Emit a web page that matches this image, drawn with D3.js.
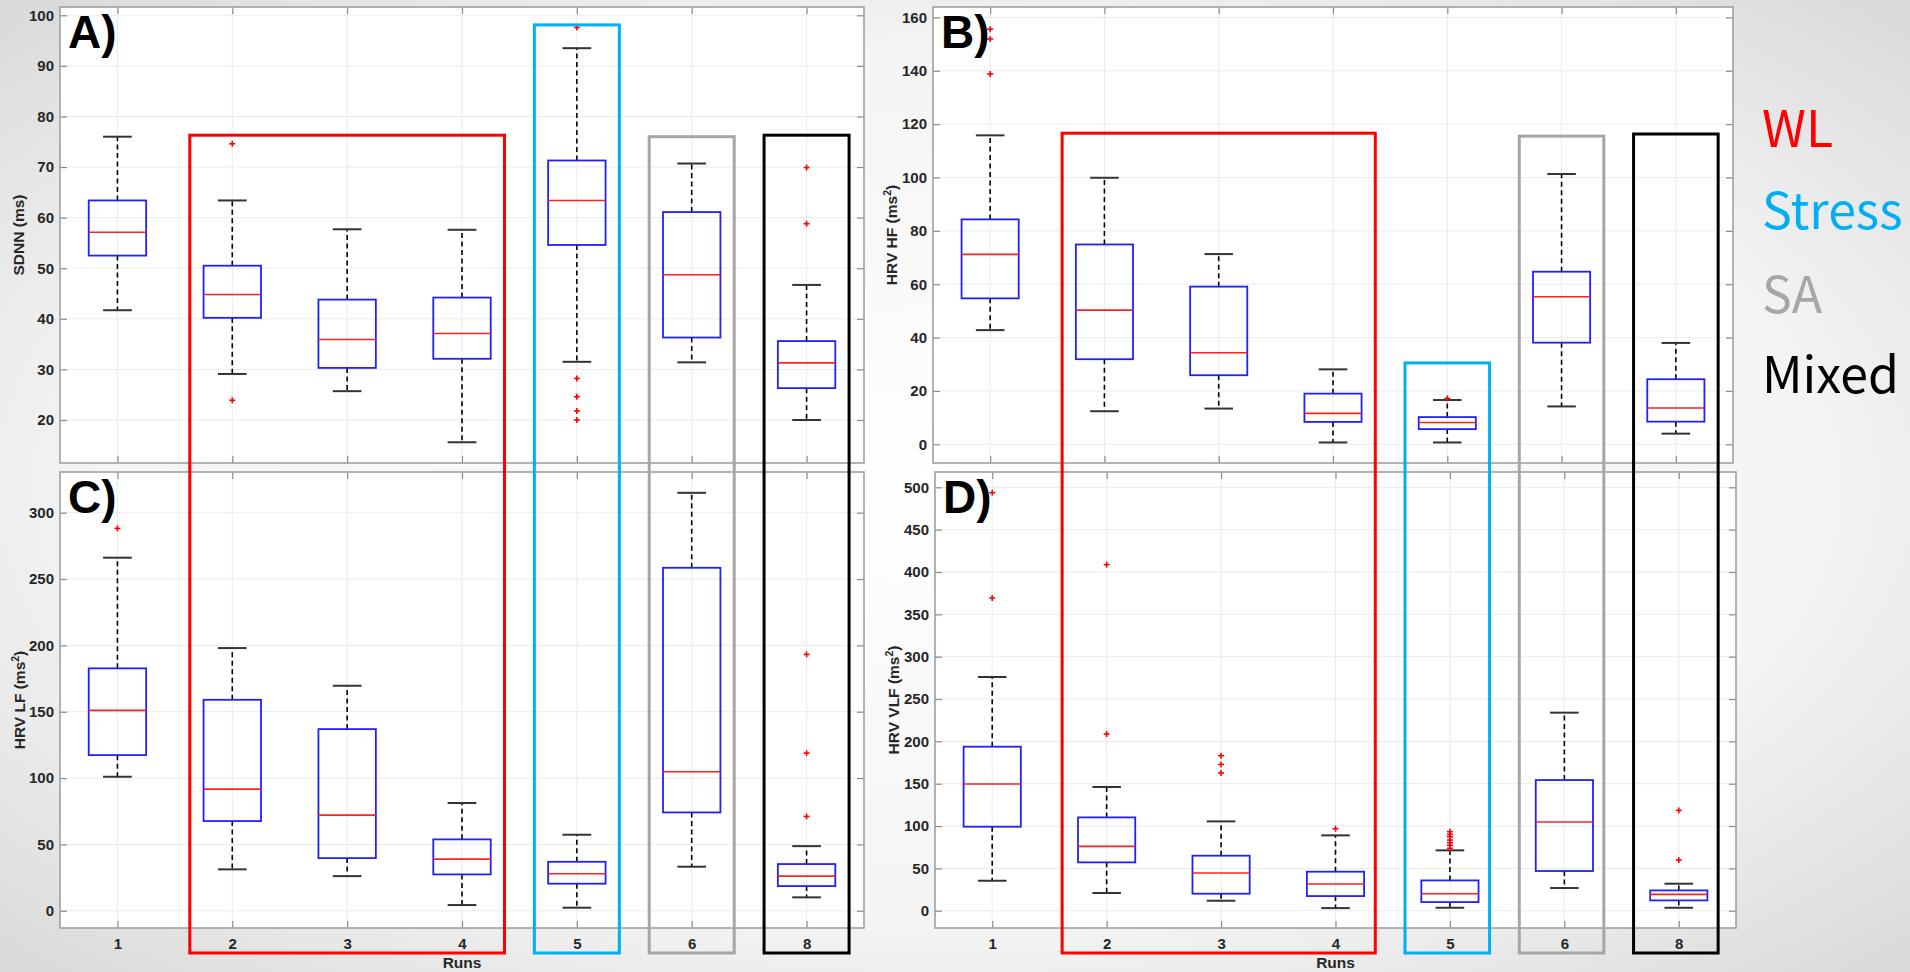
<!DOCTYPE html>
<html><head><meta charset="utf-8">
<script src="https://cdn.jsdelivr.net/npm/d3@7/dist/d3.min.js"></script>
<style>html,body{margin:0;padding:0;background:#fff;} body{width:1910px;height:972px;overflow:hidden;}</style>
</head><body><svg id="fig" width="1910" height="972"></svg>
<script>
// ---------------- DATA ----------------
const runs = ["1","2","3","4","5","6","8"];

const sdnnLow  = [41.7, 29.1, 25.7, 15.6, 31.5, 31.4, 20.0];
const sdnnQ1   = [52.5, 40.2, 30.3, 32.1, 54.6, 36.3, 26.3];
const sdnnMed  = [57.1, 44.8, 35.9, 37.1, 63.4, 48.7, 31.3];
const sdnnQ3   = [63.4, 50.5, 43.8, 44.2, 71.3, 61.1, 35.6];
const sdnnHigh = [76.0, 63.4, 57.7, 57.6, 93.5, 70.7, 46.7];
const sdnnOut  = [[], [74.6, 23.9], [], [], [97.6, 28.2, 24.6, 21.8, 20.0], [], [69.9, 58.8]];
const sdnnTicks = [20, 30, 40, 50, 60, 70, 80, 90, 100];

const hfLow  = [42.8, 12.4, 13.4, 0.7, 0.7, 14.2, 4.0];
const hfQ1   = [54.7, 31.9, 25.9, 8.4, 5.7, 38.1, 8.5];
const hfMed  = [71.2, 50.3, 34.3, 11.6, 8.2, 55.3, 13.6];
const hfQ3   = [84.3, 74.9, 59.1, 19.0, 10.2, 64.7, 24.4];
const hfHigh = [115.8, 99.9, 71.3, 28.1, 16.6, 101.3, 38.0];
const hfOut  = [[155.6, 151.9, 138.8], [], [], [], [17.2], [], []];
const hfTicks = [0, 20, 40, 60, 80, 100, 120, 140, 160];

const lfLow  = [101.0, 31.2, 26.1, 4.3, 2.3, 33.2, 10.1];
const lfQ1   = [117.3, 67.6, 39.7, 27.4, 20.4, 74.1, 18.6];
const lfMed  = [151.0, 91.7, 72.1, 38.9, 27.9, 104.8, 26.1];
const lfQ3   = [182.7, 159.0, 136.9, 53.8, 36.9, 258.5, 35.2];
const lfHigh = [266.1, 198.0, 169.6, 81.2, 57.3, 315.0, 48.7];
const lfOut  = [[288.2], [], [], [], [], [], [193.2, 118.8, 71.1]];
const lfTicks = [0, 50, 100, 150, 200, 250, 300];

const vlfLow  = [35.4, 20.9, 11.8, 3.1, 3.5, 26.8, 3.5];
const vlfQ1   = [99.2, 57.1, 20.1, 17.3, 10.2, 46.9, 12.2];
const vlfMed  = [149.6, 76.0, 44.5, 31.5, 20.1, 104.7, 19.3];
const vlfQ3   = [193.7, 110.2, 65.0, 46.1, 35.8, 154.3, 24.0];
const vlfHigh = [276.0, 146.1, 105.5, 89.0, 71.3, 233.9, 31.9];
const vlfOut  = [[493.7, 369.3], [408.7, 208.7], [183.1, 172.8, 162.6], [96.9],
                 [93.3, 90.2, 87.4, 83.5, 80.3, 77.2, 73.6], [], [118.5, 59.8]];
const vlfTicks = [0, 50, 100, 150, 200, 250, 300, 350, 400, 450, 500];

// condition groups (annotation boxes + legend)
const groupNames = ["WL", "Stress", "SA", "Mixed"];
const groupFirst = ["2", "5", "6", "8"];
const groupLast  = ["4", "5", "6", "8"];
const groupTopLeft  = [76.3, 98.1, 76.0, 76.3];    // in SDNN units (left column)
const groupTopRight = [116.6, 30.5, 115.5, 116.3]; // in HF units (right column)

// ---------------- STYLE / LAYOUT ----------------
const groupColors = ["#ff0000", "#00b0f0", "#a6a6a6", "#000000"];
const axisFont = "'Liberation Sans', Arial, sans-serif";
const textCol = "#262626";

const panels = [
  {letter:"A)", label:["SDNN (ms)", null], low:sdnnLow, q1:sdnnQ1, med:sdnnMed, q3:sdnnQ3, high:sdnnHigh, out:sdnnOut,
   ticks:sdnnTicks, domain:[11.5, 101.64], x0:60, x1:864, y0:7, y1:463, xlabels:false, labelX:19},
  {letter:"B)", label:["HRV HF (ms", "2", ")"], low:hfLow, q1:hfQ1, med:hfMed, q3:hfQ3, high:hfHigh, out:hfOut,
   ticks:hfTicks, domain:[-7.0, 163.9], x0:933, x1:1733, y0:7, y1:463, xlabels:false, labelX:892},
  {letter:"C)", label:["HRV LF (ms", "2", ")"], low:lfLow, q1:lfQ1, med:lfMed, q3:lfQ3, high:lfHigh, out:lfOut,
   ticks:lfTicks, domain:[-13.0, 330.7], x0:60, x1:864, y0:472, y1:928, xlabels:true, labelX:20},
  {letter:"D)", label:["HRV VLF (ms", "2", ")"], low:vlfLow, q1:vlfQ1, med:vlfMed, q3:vlfQ3, high:vlfHigh, out:vlfOut,
   ticks:vlfTicks, domain:[-20.4, 518.1], x0:935, x1:1736, y0:472, y1:928, xlabels:true, labelX:894}
];

const svg = d3.select("#fig");

// background gradient
const defs = svg.append("defs");
const rg = defs.append("radialGradient").attr("id","bg").attr("cx","0.5").attr("cy","0.5").attr("r","0.75");
rg.append("stop").attr("offset","0%").attr("stop-color","#ffffff");
rg.append("stop").attr("offset","60%").attr("stop-color","#f4f4f4");
rg.append("stop").attr("offset","100%").attr("stop-color","#d4d4d4");
svg.append("rect").attr("width",1910).attr("height",972).attr("fill","url(#bg)");

panels.forEach(p => {
  const g = svg.append("g");
  const x = d3.scalePoint().domain(runs).range([p.x0, p.x1]).padding(0.5);
  const y = d3.scaleLinear().domain(p.domain).range([p.y1, p.y0]);
  p.x = x; p.y = y;
  const step = x.step();

  g.append("rect").attr("x", p.x0).attr("y", p.y0).attr("width", p.x1 - p.x0).attr("height", p.y1 - p.y0)
    .attr("fill", "#ffffff");

  // grid
  g.append("g").selectAll("line").data(p.ticks).join("line")
    .attr("x1", p.x0).attr("x2", p.x1).attr("y1", d => y(d)).attr("y2", d => y(d))
    .attr("stroke", "#ebebeb").attr("stroke-width", 1);
  g.append("g").selectAll("line").data(runs).join("line")
    .attr("x1", d => x(d)).attr("x2", d => x(d)).attr("y1", p.y0).attr("y2", p.y1)
    .attr("stroke", "#ebebeb").attr("stroke-width", 1);

  // axes with inward ticks on all sides
  const tl = 7;
  const yl = g.append("g").attr("transform", `translate(${p.x0},0)`)
    .call(d3.axisLeft(y).tickValues(p.ticks).tickSize(-tl).tickPadding(6));
  const yr = g.append("g").attr("transform", `translate(${p.x1},0)`)
    .call(d3.axisRight(y).tickValues(p.ticks).tickSize(-tl).tickFormat(""));
  const xb = g.append("g").attr("transform", `translate(0,${p.y1})`)
    .call(d3.axisBottom(x).tickSize(-tl).tickPadding(10).tickFormat(p.xlabels ? (d => d) : ""));
  const xt = g.append("g").attr("transform", `translate(0,${p.y0})`)
    .call(d3.axisTop(x).tickSize(-tl).tickFormat(""));
  [yl, yr, xb, xt].forEach(a => {
    a.select(".domain").remove();
    a.selectAll(".tick line").attr("stroke", "#8c8c8c").attr("stroke-width", 1.2);
    a.selectAll(".tick text").attr("font-family", axisFont).attr("font-weight", "bold")
      .attr("font-size", 15).attr("fill", textCol);
  });

  // frame
  g.append("rect").attr("x", p.x0).attr("y", p.y0).attr("width", p.x1 - p.x0).attr("height", p.y1 - p.y0)
    .attr("fill", "none").attr("stroke", "#a0a0a0").attr("stroke-width", 1.6);

  // box plots
  const idx = d3.range(runs.length);
  const bw = step * 0.25, cw = step * 0.125;
  const bp = g.append("g");
  // whiskers
  bp.selectAll(".wu").data(idx).join("line")
    .attr("x1", i => x(runs[i])).attr("x2", i => x(runs[i]))
    .attr("y1", i => y(p.q3[i])).attr("y2", i => y(p.high[i]))
    .attr("stroke", "#000").attr("stroke-width", 1.6).attr("stroke-dasharray", "5,3.5");
  bp.selectAll(".wl").data(idx).join("line")
    .attr("x1", i => x(runs[i])).attr("x2", i => x(runs[i]))
    .attr("y1", i => y(p.q1[i])).attr("y2", i => y(p.low[i]))
    .attr("stroke", "#000").attr("stroke-width", 1.6).attr("stroke-dasharray", "5,3.5");
  // caps
  ["high", "low"].forEach(k => {
    bp.append("g").selectAll("line").data(idx).join("line")
      .attr("x1", i => x(runs[i]) - cw).attr("x2", i => x(runs[i]) + cw)
      .attr("y1", i => y(p[k][i])).attr("y2", i => y(p[k][i]))
      .attr("stroke", "#333").attr("stroke-width", 2);
  });
  // boxes
  bp.append("g").selectAll("rect").data(idx).join("rect")
    .attr("x", i => x(runs[i]) - bw).attr("width", 2 * bw)
    .attr("y", i => y(p.q3[i])).attr("height", i => y(p.q1[i]) - y(p.q3[i]))
    .attr("fill", "none").attr("stroke", "#2020ff").attr("stroke-width", 1.8);
  // medians
  bp.append("g").selectAll("line").data(idx).join("line")
    .attr("x1", i => x(runs[i]) - bw).attr("x2", i => x(runs[i]) + bw)
    .attr("y1", i => y(p.med[i])).attr("y2", i => y(p.med[i]))
    .attr("stroke", "#ff2020").attr("stroke-width", 1.6);
  // outliers
  const outs = [];
  p.out.forEach((arr, i) => arr.forEach(v => outs.push({r: runs[i], v})));
  const og = bp.append("g").selectAll("g").data(outs).join("g")
    .attr("transform", d => `translate(${x(d.r)},${y(d.v)})`);
  og.append("line").attr("x1", -3).attr("x2", 3).attr("stroke", "#ff0000").attr("stroke-width", 1.6);
  og.append("line").attr("y1", -3).attr("y2", 3).attr("stroke", "#ff0000").attr("stroke-width", 1.6);

  // y label
  const yc = (p.y0 + p.y1) / 2;
  const lab = g.append("text").attr("transform", `translate(${p.labelX},${yc}) rotate(-90)`)
    .attr("text-anchor", "middle").attr("dy", "0.35em")
    .attr("font-family", axisFont).attr("font-weight", "bold").attr("font-size", 15.5).attr("fill", textCol);
  lab.append("tspan").text(p.label[0]);
  if (p.label[1]) {
    lab.append("tspan").attr("baseline-shift", "super").attr("font-size", 10.5).text(p.label[1]);
    lab.append("tspan").text(p.label[2]);
  }

  // x label
  if (p.xlabels) {
    g.append("text").attr("x", (p.x0 + p.x1) / 2).attr("y", 968).attr("text-anchor", "middle")
      .attr("font-family", axisFont).attr("font-weight", "bold").attr("font-size", 15.5).attr("fill", textCol)
      .text("Runs");
  }

  // panel letter
  g.append("text").attr("x", p.x0 + 8).attr("y", p.y0 + 41)
    .attr("font-family", axisFont).attr("font-weight", "bold").attr("font-size", 46).attr("fill", "#000")
    .text(p.letter);
});

// group annotation rectangles spanning both rows
const annBottom = 953;
[[panels[0], groupTopLeft], [panels[1], groupTopRight]].forEach(([p, tops]) => {
  const st = p.x.step();
  svg.append("g").selectAll("rect").data(groupNames).join("rect")
    .attr("x", (d, i) => p.x(groupFirst[i]) - 0.37 * st)
    .attr("width", (d, i) => p.x(groupLast[i]) - p.x(groupFirst[i]) + 0.74 * st)
    .attr("y", (d, i) => p.y(tops[i]))
    .attr("height", (d, i) => annBottom - p.y(tops[i]))
    .attr("fill", "none").attr("stroke", (d, i) => groupColors[i]).attr("stroke-width", 3);
});

// legend
const legY = [147, 229, 313, 393];
svg.append("g").selectAll("text").data(groupNames).join("text")
  .attr("x", 1762).attr("y", (d, i) => legY[i])
  .attr("font-family", "'Noto Sans CJK SC', 'Source Sans Pro', 'Noto Sans', sans-serif")
  .attr("font-size", 50).attr("fill", (d, i) => groupColors[i]).text(d => d);
</script></body></html>
